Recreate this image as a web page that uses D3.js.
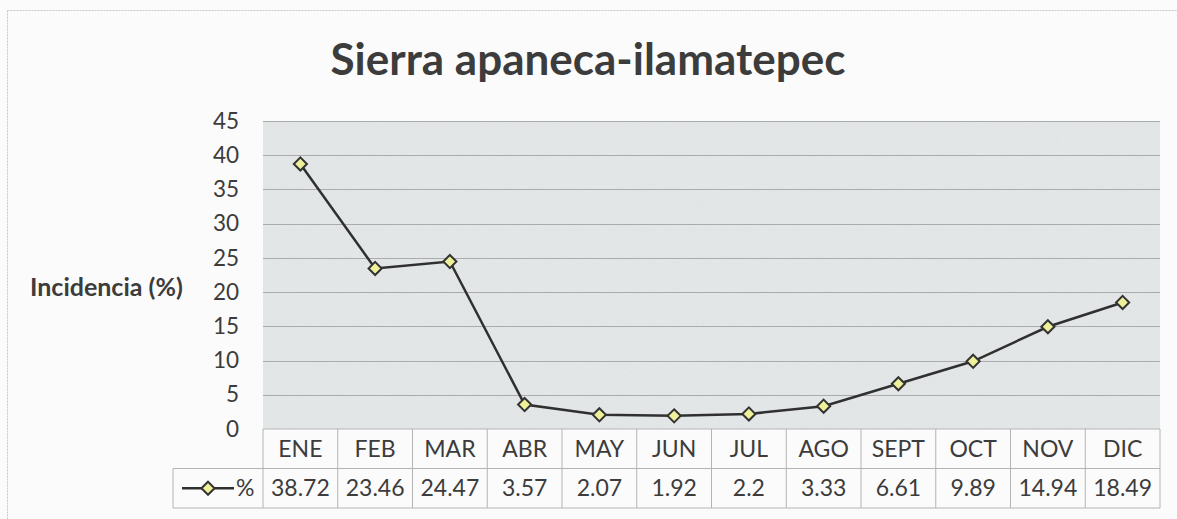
<!DOCTYPE html>
<html lang="es">
<head>
<meta charset="UTF-8">
<title>Sierra apaneca-ilamatepec</title>
<script src="https://d3js.org/d3.v7.min.js"></script>
<style>
  body { margin: 0; background: #fbfbfb; }
  svg { display: block; font-family: Lato, "Open Sans", sans-serif; }
</style>
</head>
<body>
<svg width="1177" height="519"></svg>
<script>
const months = ["ENE", "FEB", "MAR", "ABR", "MAY", "JUN", "JUL", "AGO", "SEPT", "OCT", "NOV", "DIC"];
const values = [38.72, 23.46, 24.47, 3.57, 2.07, 1.92, 2.2, 3.33, 6.61, 9.89, 14.94, 18.49];
const yTicks = [0, 5, 10, 15, 20, 25, 30, 35, 40, 45];
const title = "Sierra apaneca-ilamatepec";
const yLabel = "Incidencia (%)";
const seriesName = "%";

const svg = d3.select("svg");
const plot = { left: 263, right: 1160, top: 121, bottom: 429 };
const rowH = 39.5;
const legendLeft = 173;
const textColor = "#3c3c3c";
const borderColor = "#b4b4b4";

const x = d3.scaleBand().domain(months).range([plot.left, plot.right]);
const y = d3.scaleLinear().domain([0, 45]).range([plot.bottom, plot.top]);

// outer chart border
svg.append("rect")
    .attr("x", 7.5).attr("y", 10.5)
    .attr("width", 1200).attr("height", 520)
    .attr("fill", "none")
    .attr("stroke", "#c8c8c8")
    .attr("stroke-dasharray", "2,1");

// texture for the plot area
const defs = svg.append("defs");
const filt = defs.append("filter").attr("id", "grain");
filt.append("feTurbulence").attr("type", "fractalNoise").attr("baseFrequency", 0.9).attr("numOctaves", 2).attr("result", "n");
filt.append("feColorMatrix").attr("in", "n").attr("type", "matrix")
    .attr("values", "0 0 0 0 0.55  0 0 0 0 0.57  0 0 0 0 0.58  0 0 0 0.2 0");
filt.append("feComposite").attr("in2", "SourceGraphic").attr("operator", "in");

svg.append("rect")
    .attr("x", plot.left).attr("y", plot.top)
    .attr("width", plot.right - plot.left).attr("height", plot.bottom - plot.top)
    .attr("fill", "#e6e9ea");
svg.append("rect")
    .attr("x", plot.left).attr("y", plot.top)
    .attr("width", plot.right - plot.left).attr("height", plot.bottom - plot.top)
    .attr("fill", "#fff")
    .attr("filter", "url(#grain)");

// gridlines
svg.append("g")
  .selectAll("line")
  .data(yTicks.filter(d => d > 0))
  .join("line")
    .attr("x1", plot.left).attr("x2", plot.right)
    .attr("y1", d => Math.round(y(d)) + 0.5).attr("y2", d => Math.round(y(d)) + 0.5)
    .attr("stroke", "#a9abac")
    .attr("stroke-width", 1.2);

// y axis labels
const yAxis = svg.append("g")
    .attr("transform", `translate(${plot.left - 24},0)`)
    .call(d3.axisLeft(y).tickValues(yTicks).tickSize(0).tickPadding(0));
yAxis.select(".domain").remove();
yAxis.selectAll("text")
    .attr("font-family", "Lato, sans-serif")
    .attr("font-size", 22.5)
    .attr("fill", textColor)
    .attr("text-anchor", "end");

// title
svg.append("text")
    .attr("x", 588).attr("y", 75)
    .attr("text-anchor", "middle")
    .attr("font-size", 44)
    .attr("font-weight", "bold")
    .attr("fill", textColor)
    .text(title);

// y label
svg.append("text")
    .attr("x", 30).attr("y", 296)
    .attr("font-size", 25)
    .attr("font-weight", "bold")
    .attr("fill", textColor)
    .text(yLabel);

// data table
const table = svg.append("g").attr("stroke", borderColor).attr("stroke-width", 1).attr("fill", "none");
const tBottom = plot.bottom + rowH * 2;
table.append("line").attr("x1", plot.left).attr("x2", plot.right).attr("y1", plot.bottom).attr("y2", plot.bottom);
table.append("line").attr("x1", legendLeft).attr("x2", plot.right).attr("y1", plot.bottom + rowH).attr("y2", plot.bottom + rowH);
table.append("line").attr("x1", legendLeft).attr("x2", plot.right).attr("y1", tBottom).attr("y2", tBottom);
table.append("line").attr("x1", legendLeft).attr("x2", legendLeft).attr("y1", plot.bottom + rowH).attr("y2", tBottom);
table.selectAll(".col")
  .data(months.map(m => x(m)).concat([plot.right]))
  .join("line")
    .attr("class", "col")
    .attr("x1", d => d).attr("x2", d => d)
    .attr("y1", plot.bottom).attr("y2", tBottom);

svg.append("g")
  .selectAll("text")
  .data(months)
  .join("text")
    .attr("x", d => x(d) + x.bandwidth() / 2)
    .attr("y", plot.bottom + rowH / 2 + 8)
    .attr("text-anchor", "middle")
    .attr("font-size", 23)
    .attr("fill", textColor)
    .text(d => d);

svg.append("g")
  .selectAll("text")
  .data(values)
  .join("text")
    .attr("x", (d, i) => x(months[i]) + x.bandwidth() / 2)
    .attr("y", plot.bottom + rowH * 1.5 + 8)
    .attr("text-anchor", "middle")
    .attr("font-size", 23)
    .attr("fill", textColor)
    .text(d => d);

// series line and markers
const line = d3.line().x((d, i) => x(months[i]) + x.bandwidth() / 2).y(d => y(d));
svg.append("path")
    .datum(values)
    .attr("d", line)
    .attr("fill", "none")
    .attr("stroke", "#303030")
    .attr("stroke-width", 2.5);

const diamond = d3.symbol().type(d3.symbolDiamond2).size(110);
svg.append("g")
  .selectAll("path")
  .data(values)
  .join("path")
    .attr("transform", (d, i) => `translate(${x(months[i]) + x.bandwidth() / 2},${y(d)})`)
    .attr("d", diamond)
    .attr("fill", "#eef09a")
    .attr("stroke", "#333")
    .attr("stroke-width", 2);

// legend key in the table
const keyY = plot.bottom + rowH * 1.5;
svg.append("line")
    .attr("x1", 182).attr("x2", 234).attr("y1", keyY).attr("y2", keyY)
    .attr("stroke", "#303030").attr("stroke-width", 2.5);
svg.append("path")
    .attr("transform", `translate(208,${keyY})`)
    .attr("d", diamond)
    .attr("fill", "#eef09a")
    .attr("stroke", "#333")
    .attr("stroke-width", 2);
svg.append("text")
    .attr("x", 236).attr("y", keyY + 8)
    .attr("font-size", 23)
    .attr("fill", textColor)
    .text(seriesName);
</script>
</body>
</html>
